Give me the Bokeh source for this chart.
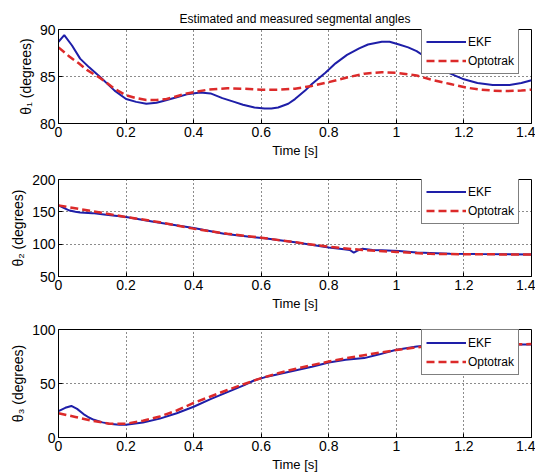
from bokeh.plotting import figure
from bokeh.layouts import column
from bokeh.models import FixedTicker, Range1d, Legend, LegendItem
from bokeh.embed import file_html
from bokeh.resources import INLINE

# ---------------- data ----------------
x_ticks = [0, 0.2, 0.4, 0.6, 0.8, 1.0, 1.2, 1.4]

# theta 1
t1_ekf = [0, 0.017, 0.04, 0.064, 0.09, 0.125, 0.166, 0.2, 0.23, 0.26, 0.29, 0.31, 0.35,
          0.38, 0.42, 0.45, 0.485, 0.52, 0.546, 0.58, 0.61, 0.63, 0.65, 0.68, 0.70, 0.73,
          0.75, 0.79, 0.82, 0.854, 0.89, 0.916, 0.957, 0.98, 1.008, 1.035, 1.06, 1.085,
          1.11, 1.135, 1.16, 1.2, 1.24, 1.285, 1.335, 1.37, 1.4]
y1_ekf = [88.7, 89.4, 88.3, 86.9, 86.0, 84.9, 83.5, 82.6, 82.3, 82.1, 82.2, 82.4, 82.8,
          83.1, 83.3, 83.2, 82.7, 82.3, 82.0, 81.7, 81.6, 81.6, 81.7, 82.1, 82.6, 83.5,
          84.2, 85.4, 86.4, 87.3, 88.0, 88.4, 88.7, 88.7, 88.4, 88.1, 87.7, 87.1,
          86.4, 85.8, 85.3, 84.7, 84.3, 84.1, 84.1, 84.3, 84.6]
t1_opt = [0, 0.033, 0.06, 0.084, 0.125, 0.166, 0.2, 0.23, 0.26, 0.29, 0.32, 0.35, 0.38,
          0.41, 0.443, 0.5, 0.55, 0.6, 0.65, 0.7, 0.75, 0.8, 0.854, 0.905, 0.957, 1.0,
          1.06, 1.11, 1.16, 1.21, 1.25, 1.285, 1.33, 1.37, 1.4]
y1_opt = [88.1, 87.1, 86.4, 85.7, 84.8, 83.7, 83.0, 82.7, 82.5, 82.5, 82.6, 82.9, 83.2,
          83.4, 83.6, 83.75, 83.7, 83.6, 83.6, 83.7, 84.0, 84.4, 84.9, 85.3, 85.45, 85.4,
          85.1, 84.6, 84.2, 83.8, 83.6, 83.5, 83.45, 83.5, 83.6]

# theta 2
t2_ekf = [0, 0.02, 0.033, 0.05, 0.064, 0.1, 0.135, 0.2, 0.29, 0.4, 0.49, 0.61, 0.7, 0.8,
          0.845, 0.862, 0.874, 0.885, 0.9, 0.93, 0.957, 1.008, 1.06, 1.16, 1.25, 1.4]
y2_ekf = [160, 155, 152, 150, 149, 148, 146, 142, 134, 125, 116, 109, 103, 95,
          92, 91, 87, 90, 93, 91, 90.5, 89.5, 87, 85.3, 84.8, 84.2]
t2_opt = [0, 0.033, 0.1, 0.2, 0.3, 0.4, 0.5, 0.6, 0.7, 0.8, 0.9, 1.0, 1.1, 1.2, 1.3, 1.4]
y2_opt = [160, 157, 151, 142, 134, 124, 116, 110, 103, 96, 91, 88, 85, 84.5, 84.2, 84]

# theta 3
t3_ekf = [0, 0.02, 0.038, 0.055, 0.074, 0.09, 0.105, 0.13, 0.156, 0.18, 0.2, 0.25, 0.3,
          0.35, 0.4, 0.45, 0.5, 0.55, 0.58, 0.61, 0.65, 0.7, 0.75, 0.8, 0.85, 0.905, 0.95,
          0.997, 1.06, 1.1, 1.2, 1.3, 1.4]
y3_ekf = [24.5, 27.5, 29.2, 26.5, 21.7, 18.5, 16.4, 14.0, 12.4, 11.9, 11.8, 13.8, 17.5,
          22.5, 28.5, 35.5, 42.0, 48.5, 53.0, 55.7, 58.5, 62.0, 65.5, 69.5, 72.0, 73.5, 77.0,
          81.0, 84.3, 85.5, 86.0, 86.0, 86.0]
t3_opt = [0, 0.05, 0.1, 0.15, 0.2, 0.25, 0.3, 0.35, 0.4, 0.45, 0.5, 0.55, 0.6, 0.65, 0.7,
          0.75, 0.8, 0.85, 0.9, 0.95, 1.0, 1.05, 1.1, 1.2, 1.3, 1.4]
y3_opt = [22.5, 19, 15.5, 12.8, 12.8, 15.5, 19.5, 25, 32, 38, 44, 49.5, 55, 59.5, 63.5,
          67, 70.3, 73.3, 76, 78.5, 81, 83, 85, 86, 86, 86.5]

panels = [
    dict(t_e=t1_ekf, y_e=y1_ekf, t_o=t1_opt, y_o=y1_opt, yr=(80, 90), yt=[80, 85, 90],
         ylabel="θ₁ (degrees)"),
    dict(t_e=t2_ekf, y_e=y2_ekf, t_o=t2_opt, y_o=y2_opt, yr=(50, 200), yt=[50, 100, 150, 200],
         ylabel="θ₂ (degrees)"),
    dict(t_e=t3_ekf, y_e=y3_ekf, t_o=t3_opt, y_o=y3_opt, yr=(0, 100), yt=[0, 50, 100],
         ylabel="θ₃ (degrees)"),
]
title_text = "Estimated and measured segmental angles"
xlabel = "Time [s]"
labels = ["EKF", "Optotrak"]

# ---------------- styling / layout ----------------
FONT = "Liberation Sans"
BLUE = "#1e1ea8"
RED = "#dc2a2a"
W = 535
geom = [  # (height, border_top, border_bottom)
    (160, 29, 36),
    (153, 19, 36),
    (162, 16, 38),
]

figs = []
for i, (pd_, g) in enumerate(zip(panels, geom)):
    h, bt, bb = g
    p = figure(width=W, height=h, output_backend="svg", toolbar_location=None,
               x_range=Range1d(0, 1.4), y_range=Range1d(*pd_["yr"]),
               min_border_left=58, min_border_right=4, min_border_top=bt,
               min_border_bottom=bb, background_fill_color="white",
               border_fill_color="white")
    if i == 0:
        p.title.text = title_text
        p.title.align = "center"
        p.title.text_font = FONT
        p.title.text_font_size = "12px"
        p.title.text_font_style = "normal"
        p.title.text_color = "black"
        p.title.standoff = 7
    p.outline_line_color = "black"
    p.outline_line_width = 1
    p.outline_line_alpha = 1

    for ax in (p.xaxis[0], p.yaxis[0]):
        ax.major_label_text_font = FONT
        ax.major_label_text_font_size = "14px"
        ax.major_label_text_color = "black"
        ax.axis_label_text_font = FONT
        ax.axis_label_text_font_style = "normal"
        ax.axis_label_text_color = "black"
        ax.major_tick_in = 4
        ax.major_tick_out = 0
        ax.minor_tick_in = 0
        ax.minor_tick_out = 0
        ax.axis_line_color = "black"
        ax.major_tick_line_color = "black"
        ax.major_label_standoff = 3
        ax.axis_label_standoff = 3
    p.xaxis.axis_label_text_font_size = "13px"
    p.yaxis.axis_label_text_font_size = "14px"
    p.xaxis.ticker = FixedTicker(ticks=x_ticks)
    p.yaxis.ticker = FixedTicker(ticks=pd_["yt"])
    p.xaxis.axis_label = xlabel
    p.yaxis.axis_label = pd_["ylabel"]

    for gr in (p.xgrid[0], p.ygrid[0]):
        gr.grid_line_color = "black"
        gr.grid_line_dash = "1 3"
        gr.grid_line_width = 1
        gr.grid_line_alpha = 0.9

    r_e = p.line(pd_["t_e"], pd_["y_e"], line_color=BLUE, line_width=2)
    r_o = p.line(pd_["t_o"], pd_["y_o"], line_color=RED, line_width=2.5, line_dash="8 4")

    frame_h = h - bt - bb
    leg = Legend(items=[LegendItem(label=labels[0], renderers=[r_e]),
                        LegendItem(label=labels[1], renderers=[r_o])],
                 location=(363, frame_h - 2 - 44))
    leg.label_text_font = FONT
    leg.label_text_font_size = "12px"
    leg.label_text_color = "black"
    leg.label_standoff = 2
    leg.glyph_width = 40
    leg.glyph_height = 17
    leg.label_height = 17
    leg.spacing = 2
    leg.padding = 4
    leg.margin = 0
    leg.border_line_color = "black"
    leg.border_line_width = 1
    leg.background_fill_color = "white"
    leg.background_fill_alpha = 1
    p.add_layout(leg, "center")
    figs.append(p)

layout = column(*figs, spacing=0)
open("out.html", "w").write(file_html(layout, INLINE))
